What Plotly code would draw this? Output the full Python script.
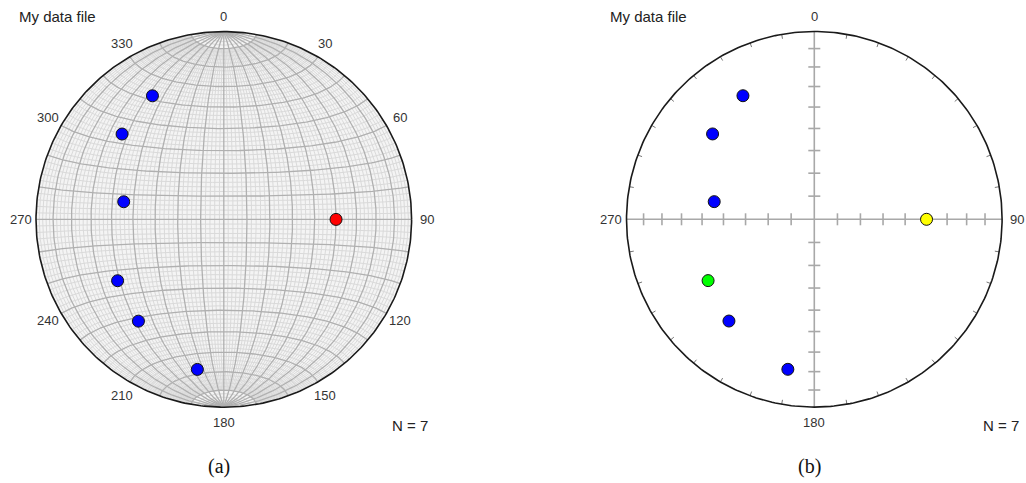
import numpy as np
import plotly.graph_objects as go

# ---------------- data ----------------
trend = [330, 310, 280, 90, 240, 220, 190]          # degrees azimuth
plunge = [25, 30, 45, 40, 35, 30, 20]               # degrees
colors_a = ["#0000ff", "#0000ff", "#0000ff", "#ff0000", "#0000ff", "#0000ff", "#0000ff"]
colors_b = ["#0000ff", "#0000ff", "#0000ff", "#ffff00", "#00ff00", "#0000ff", "#0000ff"]
az_labels_a = [0, 30, 60, 90, 120, 150, 180, 210, 240, 270, 300, 330]
az_labels_b = [0, 90, 180, 270]
title_text = "My data file"
count_text = "N = 7"
panel_labels = ["(a)", "(b)"]

W, H = 1026, 483
R = 187.8                       # px per unit (primitive radius)
centers = [(223.8, 219.4), (814.3, 219.3)]   # px from top-left


def project(tr, pl):
    t = np.radians(np.asarray(tr, float))
    p = np.radians(np.asarray(pl, float))
    r = np.sqrt(1 - np.sin(p))
    return r * np.sin(t), r * np.cos(t)


def proj_vec(x, y, z):
    r = np.sqrt(np.clip(1 - z, 0, None))
    h = np.sqrt(x ** 2 + y ** 2)
    h = np.where(h == 0, 1, h)
    return r * x / h, r * y / h


def meridian(lam_deg, phi_max=90):
    phi = np.radians(np.linspace(-phi_max, phi_max, 181))
    lam = np.radians(lam_deg)
    x = np.cos(phi) * np.sin(lam)
    y = np.sin(phi)
    z = np.cos(phi) * np.cos(lam)
    return proj_vec(x, y, z)


def small_circle(phi_deg):
    lam = np.radians(np.linspace(-90, 90, 181))
    phi = np.radians(phi_deg)
    x = np.cos(phi) * np.sin(lam)
    y = np.sin(phi) * np.ones_like(lam)
    z = np.cos(phi) * np.cos(lam)
    return proj_vec(x, y, z)


def collect(curves):
    xs, ys = [], []
    for cx, cy in curves:
        xs += list(cx) + [None]
        ys += list(cy) + [None]
    return xs, ys


fig = go.Figure()

# ---------- panel (a): equal-area net ----------
minor, major = [], []
for d in range(-88, 90, 2):
    if d % 10 == 0:
        major.append(meridian(d))
        major.append(small_circle(d))
    else:
        minor.append(meridian(d, 80))
        minor.append(small_circle(d))

th = np.linspace(0, 2 * np.pi, 361)
fig.add_trace(go.Scatter(x=np.cos(th), y=np.sin(th), mode="lines", fill="toself",
                         fillcolor="#f4f4f4", line=dict(color="rgba(0,0,0,0)", width=0),
                         hoverinfo="skip", showlegend=False, xaxis="x", yaxis="y"))
mx, my = collect(minor)
fig.add_trace(go.Scatter(x=mx, y=my, mode="lines", line=dict(color="#dadada", width=1),
                         hoverinfo="skip", showlegend=False, xaxis="x", yaxis="y"))
Mx, My = collect(major)
fig.add_trace(go.Scatter(x=Mx, y=My, mode="lines", line=dict(color="#b0b0b0", width=1.3),
                         hoverinfo="skip", showlegend=False, xaxis="x", yaxis="y"))
fig.add_trace(go.Scatter(x=np.cos(th), y=np.sin(th), mode="lines",
                         line=dict(color="#1a1a1a", width=1.6),
                         hoverinfo="skip", showlegend=False, xaxis="x", yaxis="y"))
px, py = project(trend, plunge)
fig.add_trace(go.Scatter(x=px, y=py, mode="markers",
                         marker=dict(size=12, color=colors_a, line=dict(color="#111", width=1)),
                         showlegend=False, xaxis="x", yaxis="y"))

# ---------- panel (b): plain net with cross ----------
tick = 6.0 / R
cross_x, cross_y = [-1, 1, None, 0, 0], [0, 0, None, -1, 1]
tx, ty = [], []
for p in range(10, 90, 10):
    r = np.sqrt(1 - np.sin(np.radians(p)))
    for s in (-1, 1):
        tx += [s * r, s * r, None]
        ty += [-tick, tick, None]
        tx += [-tick, tick, None]
        ty += [s * r, s * r, None]
fig.add_trace(go.Scatter(x=cross_x + [None] + tx, y=cross_y + [None] + ty, mode="lines",
                         line=dict(color="#a8a8a8", width=1.6),
                         hoverinfo="skip", showlegend=False, xaxis="x2", yaxis="y2"))
ctx, cty = [], []
for a in range(10, 360, 10):
    if a % 90 == 0:
        continue
    ar = np.radians(a)
    ctx += [np.sin(ar), (1 - 4.5 / R) * np.sin(ar), None]
    cty += [np.cos(ar), (1 - 4.5 / R) * np.cos(ar), None]
fig.add_trace(go.Scatter(x=ctx, y=cty, mode="lines", line=dict(color="#777", width=1),
                         hoverinfo="skip", showlegend=False, xaxis="x2", yaxis="y2"))
fig.add_trace(go.Scatter(x=np.cos(th), y=np.sin(th), mode="lines",
                         line=dict(color="#1a1a1a", width=1.6),
                         hoverinfo="skip", showlegend=False, xaxis="x2", yaxis="y2"))
fig.add_trace(go.Scatter(x=px, y=py, mode="markers",
                         marker=dict(size=12, color=colors_b, line=dict(color="#111", width=1)),
                         showlegend=False, xaxis="x2", yaxis="y2"))

# ---------- axes ----------
half = W / 2.0
(cxa, cya), (cxb, cyb) = centers
ax_common = dict(visible=False, showgrid=False, zeroline=False, fixedrange=True)
fig.update_layout(
    xaxis=dict(domain=[0, 0.5], range=[-cxa / R, (half - cxa) / R], anchor="y", **ax_common),
    yaxis=dict(domain=[0, 1], range=[-(H - cya) / R, cya / R], anchor="x", **ax_common),
    xaxis2=dict(domain=[0.5, 1], range=[-(cxb - half) / R, (W - cxb) / R], anchor="y2", **ax_common),
    yaxis2=dict(domain=[0, 1], range=[-(H - cyb) / R, cyb / R], anchor="x2", **ax_common),
)

lab_r = 203.0 / R
sans = "Arial, Liberation Sans, sans-serif"
font_lab = dict(family=sans, size=13, color="#333")
ann = []
for axn, labels in (("", az_labels_a), ("2", az_labels_b)):
    for a in labels:
        ar = np.radians(a)
        ann.append(dict(x=lab_r * np.sin(ar), y=lab_r * np.cos(ar), xref="x" + axn, yref="y" + axn,
                        text=str(a), showarrow=False, font=font_lab,
                        xanchor="center", yanchor="middle"))
for i, axn in enumerate(("", "2")):
    cx = centers[i][0]
    off = 0 if i == 0 else 590.5
    ann.append(dict(x=(17.3 + off - cx) / R, y=(centers[i][1] - 16) / R,
                    xref="x" + axn, yref="y" + axn, text=title_text, showarrow=False,
                    font=dict(family=sans, size=15, color="#222"),
                    xanchor="left", yanchor="middle"))
    ann.append(dict(x=(430 + off - cx) / R, y=(centers[i][1] - 425.5) / R,
                    xref="x" + axn, yref="y" + axn, text=count_text, showarrow=False,
                    font=dict(family=sans, size=15, color="#222"),
                    xanchor="right", yanchor="middle"))
    ann.append(dict(x=(219 + off - cx) / R, y=(centers[i][1] - 466) / R,
                    xref="x" + axn, yref="y" + axn, text=panel_labels[i], showarrow=False,
                    font=dict(family="Times New Roman, Liberation Serif, serif", size=20, color="#111"),
                    xanchor="center", yanchor="middle"))

fig.update_layout(width=W, height=H, margin=dict(l=0, r=0, t=0, b=0),
                  paper_bgcolor="white", plot_bgcolor="white", annotations=ann,
                  showlegend=False)

fig.write_html("out.html", config={"displayModeBar": False},
               post_script="document.body.style.margin='0';document.body.style.overflow='hidden';")
